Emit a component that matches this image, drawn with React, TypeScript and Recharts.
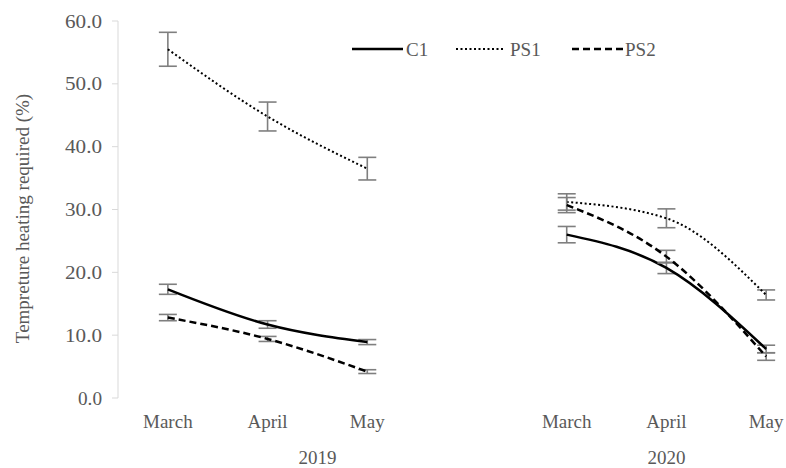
import React from 'react';
import { LineChart, Line, XAxis, YAxis, ErrorBar } from 'recharts';

// categories (the blank slot belongs to the 2019 group, as in the source)
const months = ['March', 'April', 'May', '', 'March', 'April', 'May'];
const monthTicks = [0.5, 1.5, 2.5, 4.5, 5.5, 6.5];
const yearTicks = [2, 5.5];
const yearLabels = ['2019', '2020'];
const yTicks = [0, 10, 20, 30, 40, 50, 60];

const c1 = [17.3, 11.7, 8.9, null, 26.0, 20.7, 7.8];
const c1Err = [0.8, 0.6, 0.4, null, 1.3, 0.9, 0.6];
const ps1 = [55.5, 44.8, 36.5, null, 31.2, 28.6, 16.4];
const ps1Err = [2.7, 2.3, 1.8, null, 1.3, 1.5, 0.8];
const ps2 = [12.8, 9.4, 4.2, null, 30.7, 22.5, 6.6];
const ps2Err = [0.5, 0.4, 0.3, null, 1.2, 1.0, 0.6];

const data = months.map((m, i) => ({
  pos: i + 0.5,
  month: m,
  c1: c1[i],
  c1Err: c1Err[i],
  ps1: ps1[i],
  ps1Err: ps1Err[i],
  ps2: ps2[i],
  ps2Err: ps2Err[i]
}));

const FONT = '"Liberation Serif", "Times New Roman", serif';
const TEXT = '#595959';
const ERR = '#7f7f7f';

const series = [
  { key: 'c1', name: 'C1', dash: undefined, width: 2.5 },
  { key: 'ps1', name: 'PS1', dash: '2 2.5', width: 2 },
  { key: 'ps2', name: 'PS2', dash: '7 4', width: 2.5 }
];

// the source's value labels are set in a narrow face, so squeeze them
const YTick = ({ x, y, payload }: any) => {
  const label = payload.value.toFixed(1);
  return (
    <text
      x={x}
      y={y}
      dy="0.35em"
      textAnchor="end"
      fill={TEXT}
      fontFamily={FONT}
      fontSize={19}
      textLength={label.length === 3 ? 24 : 37}
      lengthAdjust="spacingAndGlyphs"
    >
      {label}
    </text>
  );
};

const MonthTick = ({ x, y, payload }: any) => (
  <text x={x} y={y} dy="0.71em" textAnchor="middle" fill={TEXT} fontFamily={FONT} fontSize={19}>
    {months[Math.floor(payload.value)]}
  </text>
);

const YearTick = ({ x, y, payload }: any) => (
  <text x={x} y={y} dy="0.71em" textAnchor="middle" fill={TEXT} fontFamily={FONT} fontSize={19}>
    {yearLabels[yearTicks.indexOf(payload.value)]}
  </text>
);

const legendPos = [
  { x1: 352, x2: 403, tx: 406 },
  { x1: 456, x2: 503, tx: 510 },
  { x1: 572, x2: 623, tx: 625 }
];

export default function App() {
  return (
    <div
      style={{
        position: 'absolute',
        left: 0,
        top: 0,
        width: 786,
        height: 468,
        overflow: 'hidden',
        background: '#fff',
        fontFamily: FONT
      }}
    >
      <LineChart
        width={830}
        height={468}
        data={data}
        margin={{ top: 21, right: 14, left: 0, bottom: 0 }}
      >
        <XAxis
          dataKey="pos"
          type="number"
          domain={[0, 7]}
          ticks={monthTicks}
          allowDataOverflow
          height={36}
          axisLine={false}
          tickLine={false}
          tickSize={0}
          tickMargin={17}
          interval={0}
          tick={<MonthTick />}
        />
        <XAxis
          xAxisId="year"
          dataKey="pos"
          type="number"
          domain={[0, 7]}
          ticks={yearTicks}
          allowDataOverflow
          height={34}
          axisLine={false}
          tickLine={false}
          tickSize={0}
          tickMargin={17}
          interval={0}
          tick={<YearTick />}
        />
        <YAxis
          width={118}
          domain={[0, 60]}
          ticks={yTicks}
          interval={0}
          stroke="#d9d9d9"
          tickSize={6}
          tickMargin={10}
          tick={<YTick />}
          label={({ viewBox }: any) => (
            <text
              x={0}
              y={0}
              transform={`translate(22, ${viewBox.y + viewBox.height / 2 + 9}) rotate(-90)`}
              textAnchor="middle"
              dominantBaseline="central"
              fill={TEXT}
              fontFamily={FONT}
              fontSize={19}
            >
              Tempreture heating required (%)
            </text>
          )}
        />
        {series.map((s) => (
          <Line
            key={s.key}
            dataKey={s.key}
            name={s.name}
            type="monotone"
            stroke="#000"
            strokeWidth={s.width}
            strokeDasharray={s.dash}
            dot={false}
            activeDot={false}
            isAnimationActive={false}
          >
            <ErrorBar
              dataKey={`${s.key}Err`}
              direction="y"
              width={9}
              stroke={ERR}
              strokeWidth={1.6}
            />
          </Line>
        ))}
      </LineChart>
      <svg
        width={786}
        height={80}
        style={{ position: 'absolute', left: 0, top: 0, pointerEvents: 'none' }}
      >
        {series.map((s, i) => (
          <g key={s.key}>
            <line
              x1={legendPos[i].x1}
              x2={legendPos[i].x2}
              y1={49}
              y2={49}
              stroke="#000"
              strokeWidth={s.width}
              strokeDasharray={s.dash}
            />
            <text
              x={legendPos[i].tx}
              y={56}
              fill={TEXT}
              fontFamily={FONT}
              fontSize={19}
            >
              {s.name}
            </text>
          </g>
        ))}
      </svg>
    </div>
  );
}
